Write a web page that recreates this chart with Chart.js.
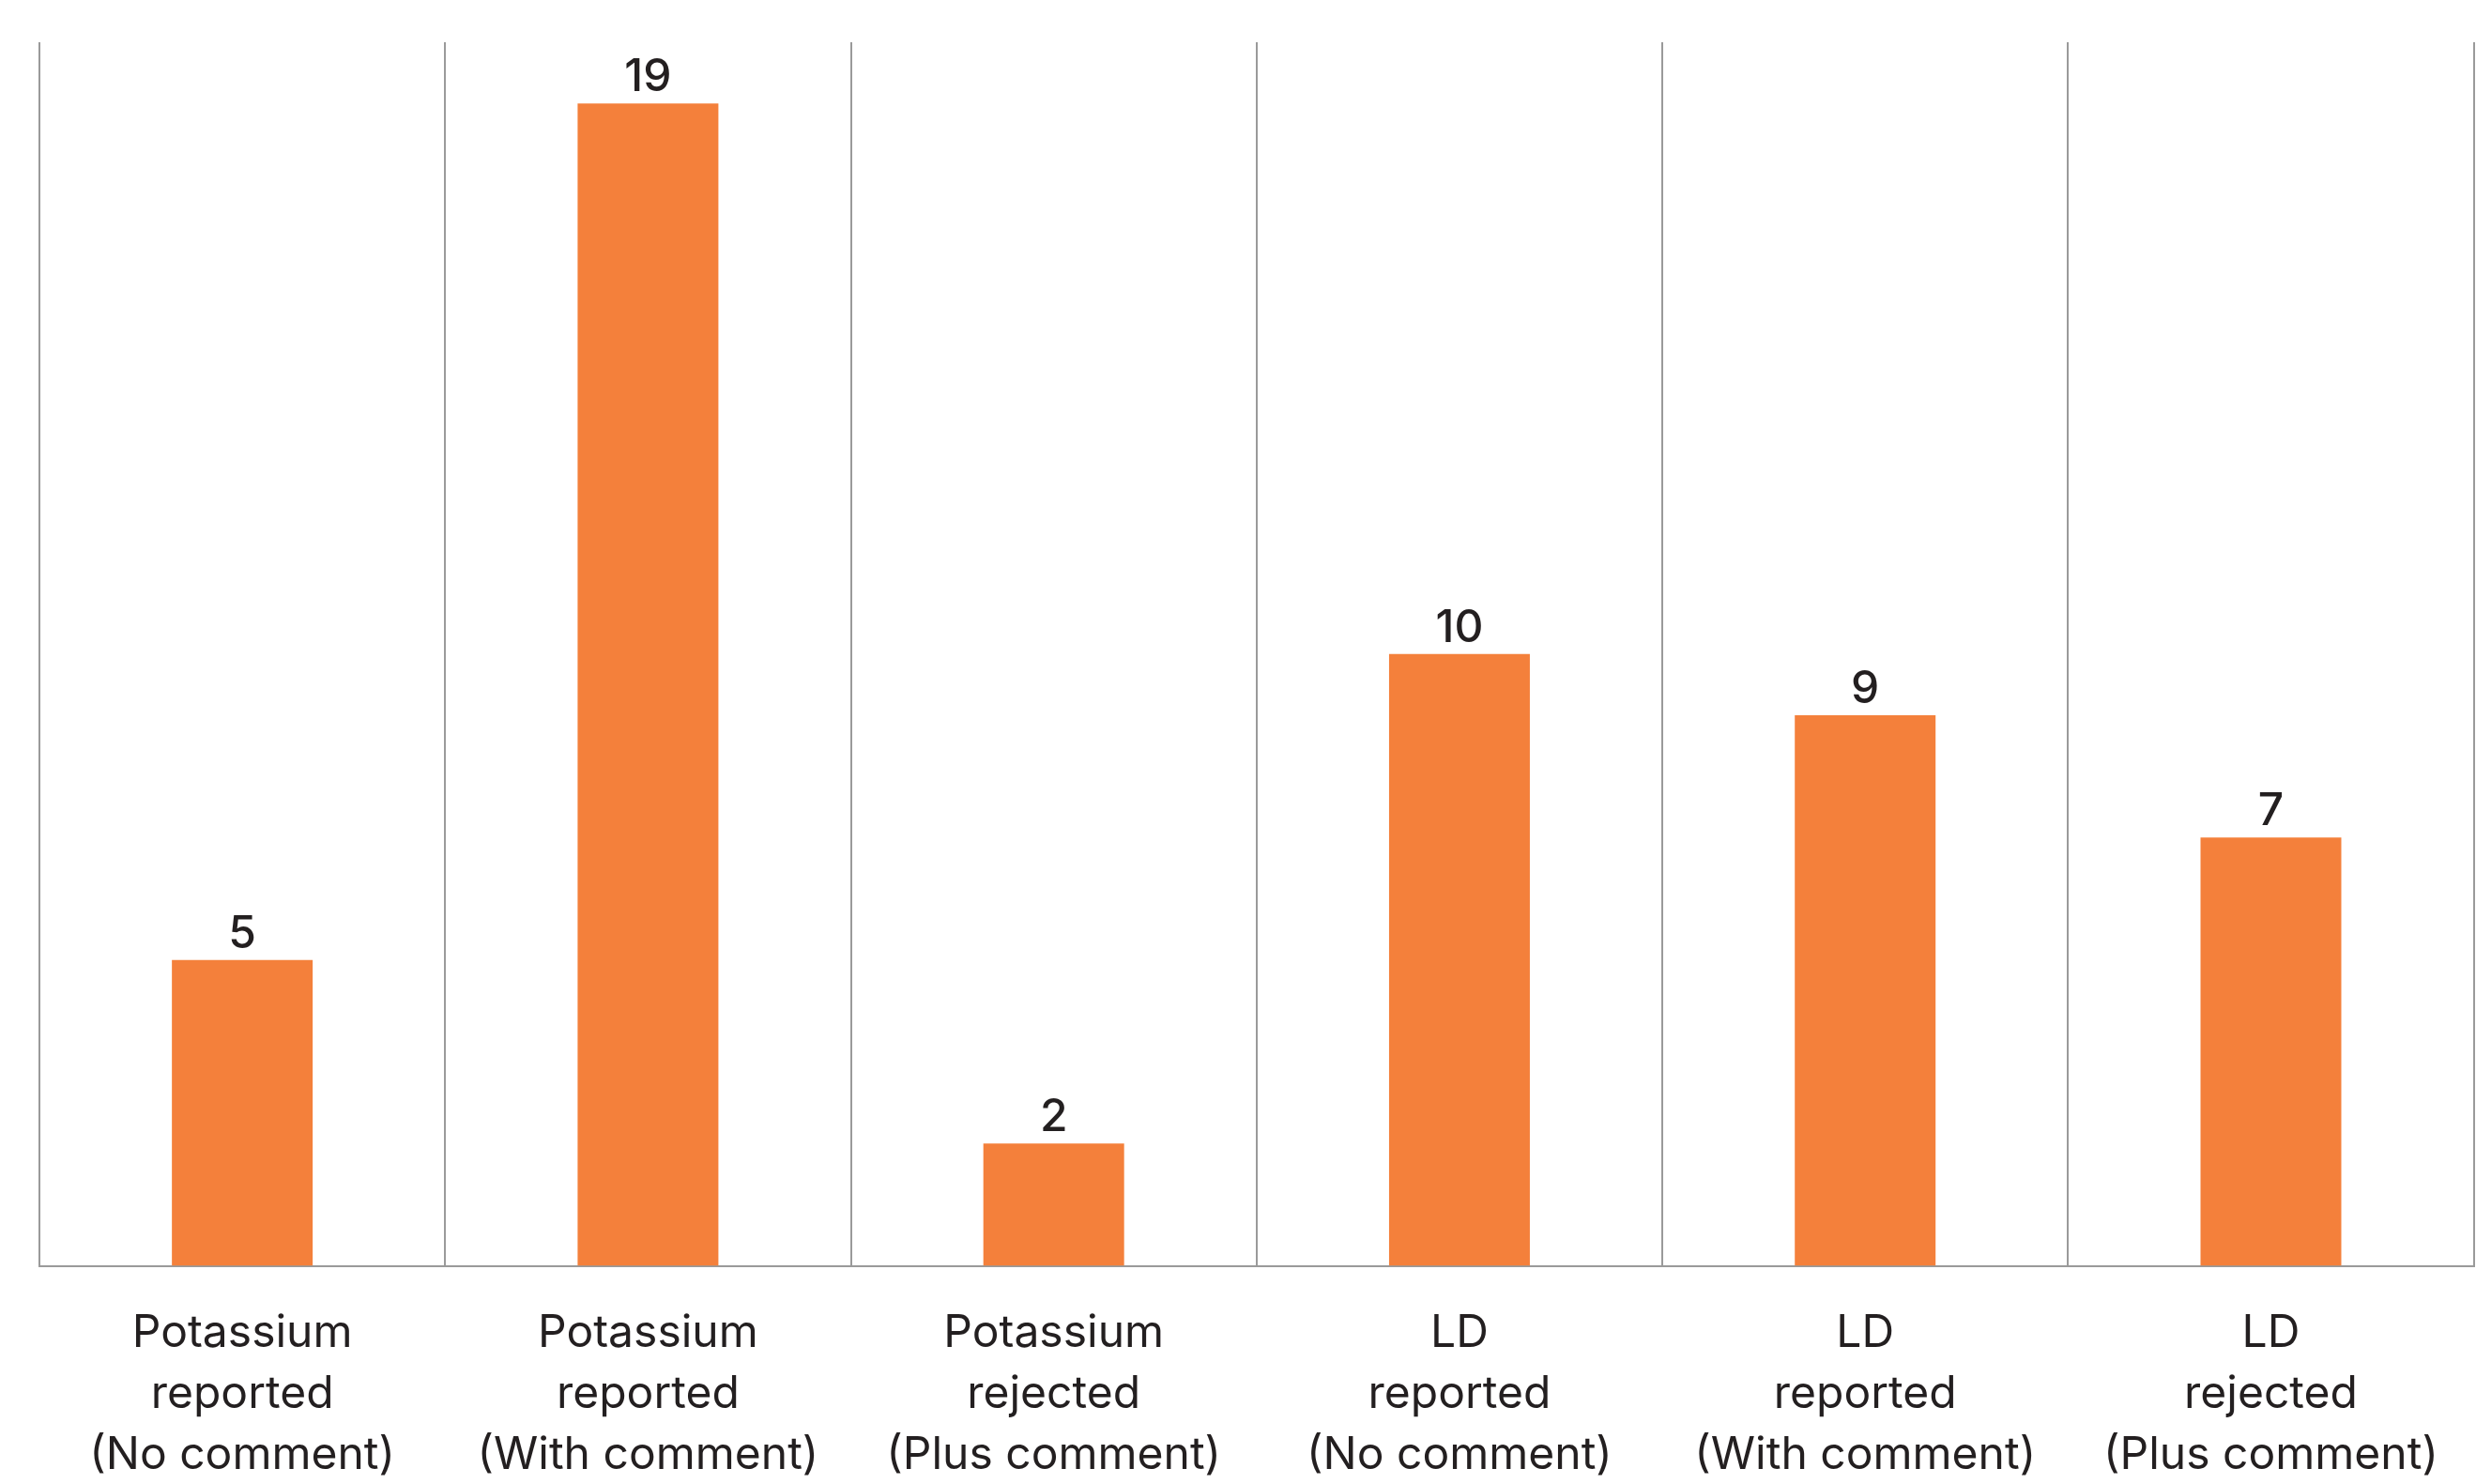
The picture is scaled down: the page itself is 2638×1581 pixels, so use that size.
<!DOCTYPE html>
<html>
<head>
<meta charset="utf-8">
<script src="https://cdn.jsdelivr.net/npm/chart.js@4/dist/chart.umd.min.js"></script>
<style>
  html, body { margin: 0; padding: 0; background: #fff; }
  #commentChart { display: block; }
</style>
</head>
<body>
<canvas id="commentChart" width="2638" height="1581"></canvas>
<script>
const categories = [
  ['Potassium', 'reported', '(No comment)'],
  ['Potassium', 'reported', '(With comment)'],
  ['Potassium', 'rejected', '(Plus comment)'],
  ['LD', 'reported', '(No comment)'],
  ['LD', 'reported', '(With comment)'],
  ['LD', 'rejected', '(Plus comment)']
];
const counts = [5, 19, 2, 10, 9, 7];
const yMax = 20;

const textColor = '#231f20';
const barColor = '#f4803b';
const lineColor = '#9a9a9a';

// draws the count above each bar
const valueLabels = {
  id: 'valueLabels',
  afterDatasetsDraw(chart) {
    const ctx = chart.ctx;
    const meta = chart.getDatasetMeta(0);
    ctx.save();
    ctx.font = '500 48px Inter, sans-serif';
    ctx.fillStyle = textColor;
    ctx.textAlign = 'center';
    ctx.textBaseline = 'alphabetic';
    meta.data.forEach((bar, i) => {
      ctx.fillText(String(counts[i]), bar.x, bar.y - 13);
    });
    ctx.restore();
  }
};

const ctx = document.getElementById('commentChart').getContext('2d');

const config = {
  type: 'bar',
  data: {
    labels: categories,
    datasets: [{
      data: counts,
      backgroundColor: barColor,
      borderWidth: 0,
      barPercentage: 0.347,
      categoryPercentage: 1
    }]
  },
  options: {
    responsive: false,
    animation: false,
    layout: { padding: { left: 42, right: 1, top: 45, bottom: -42 } },
    plugins: {
      legend: { display: false },
      tooltip: { enabled: false }
    },
    scales: {
      x: {
        grid: {
          offset: true,
          color: lineColor,
          lineWidth: 2,
          drawTicks: false
        },
        border: { color: lineColor, width: 2 },
        ticks: {
          color: textColor,
          font: { family: 'Inter, sans-serif', size: 48, lineHeight: 1.35 },
          padding: 40,
          maxRotation: 0,
          autoSkip: false
        }
      },
      y: {
        display: false,
        min: 0,
        max: yMax
      }
    }
  },
  plugins: [valueLabels]
};

const commentChart = new Chart(ctx, config);
</script>
</body>
</html>
